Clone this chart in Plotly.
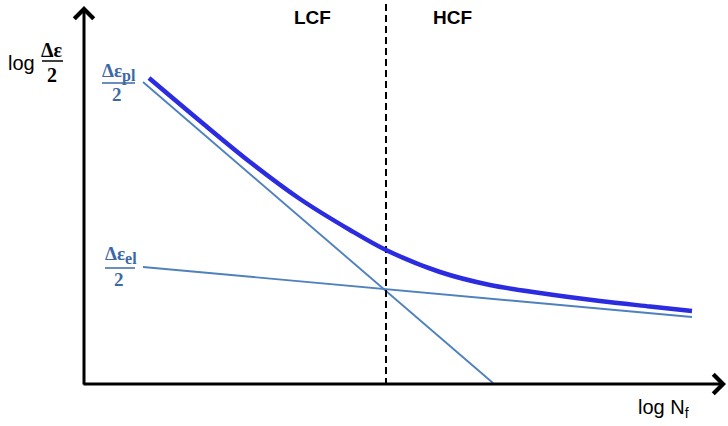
import plotly.graph_objects as go

# ---- data (chart units: origin at axis corner, x = log Nf, y = log strain amplitude) ----
log_nf_total = [65, 116, 166, 216, 266, 302, 356, 406, 456, 516, 566, 608]
log_strain_total = [306, 263, 222, 185, 154, 134, 112, 99, 91, 83, 77.5, 73]

log_nf_plastic = [59, 409]
log_strain_plastic = [302, 1]

log_nf_elastic = [59, 608]
log_strain_elastic = [117, 67]

transition_nf = 302
transition_span = [-1, 380]

x_axis_end = 642
y_axis_end = 378

region_labels = ["LCF", "HCF"]
region_label_x = [228, 368]

THICK = "#2b2be0"
THIN = "#4f81bd"
LABEL_BLUE = "#3d68a6"

fig = go.Figure()

fig.add_trace(go.Scatter(x=log_nf_plastic, y=log_strain_plastic, mode="lines",
                         line=dict(color=THIN, width=1.9), hoverinfo="skip"))
fig.add_trace(go.Scatter(x=log_nf_elastic, y=log_strain_elastic, mode="lines",
                         line=dict(color=THIN, width=1.9), hoverinfo="skip"))
fig.add_trace(go.Scatter(x=[transition_nf, transition_nf], y=transition_span, mode="lines",
                         line=dict(color="black", width=2, dash="7px,4px"), hoverinfo="skip"))
fig.add_trace(go.Scatter(x=log_nf_total, y=log_strain_total, mode="lines",
                         line=dict(color=THICK, width=4.5, shape="spline", smoothing=0.9),
                         hoverinfo="skip"))

annotations = []
# axis arrows
annotations.append(dict(x=0, y=y_axis_end, ax=0, ay=-2, xref="x", yref="y", axref="x", ayref="y",
                        text="", showarrow=True, arrowhead=4, arrowsize=1.25, arrowwidth=3,
                        arrowcolor="black", standoff=0))
annotations.append(dict(x=x_axis_end, y=0, ax=-2, ay=0, xref="x", yref="y", axref="x", ayref="y",
                        text="", showarrow=True, arrowhead=4, arrowsize=1.25, arrowwidth=3,
                        arrowcolor="black", standoff=0))

def txt(x, y, s, size, color="black", family="Liberation Sans, Arial, sans-serif"):
    annotations.append(dict(x=x, y=y, xref="x", yref="y", text=s, showarrow=False,
                            xanchor="center", yanchor="middle",
                            font=dict(size=size, color=color, family=family)))

SERIF = "Liberation Serif, DejaVu Serif, serif"
for lab, lx in zip(region_labels, region_label_x):
    txt(lx, 367, "<b>" + lab + "</b>", 19)

txt(-63, 321, "log", 20)
txt(-32, 334, "<b>Δε</b>", 20, family=SERIF)
txt(-32, 309, "<b>2</b>", 20, family=SERIF)

txt(579, -24, "log N<sub>f</sub>", 20)

txt(35, 312, "<b>Δε<sub><span style='font-size:16px'>pl</span></sub></b>", 19, LABEL_BLUE, SERIF)
txt(33, 290, "<b>2</b>", 19, LABEL_BLUE, SERIF)
txt(37, 129, "<b>Δε<sub><span style='font-size:16px'>el</span></sub></b>", 19, LABEL_BLUE, SERIF)
txt(35, 105, "<b>2</b>", 19, LABEL_BLUE, SERIF)

shapes = [
    dict(type="line", xref="x", yref="y", x0=-42, x1=-21, y0=323, y1=323,
         line=dict(color="black", width=1.5)),
    dict(type="line", xref="x", yref="y", x0=18, x1=51, y0=301, y1=301,
         line=dict(color=LABEL_BLUE, width=1.5)),
    dict(type="line", xref="x", yref="y", x0=21, x1=51, y0=116, y1=116,
         line=dict(color=LABEL_BLUE, width=1.5)),
]

fig.update_layout(
    width=728, height=426,
    margin=dict(l=0, r=0, t=0, b=0),
    paper_bgcolor="white", plot_bgcolor="white",
    showlegend=False,
    xaxis=dict(range=[-84, 644], visible=False, fixedrange=True),
    yaxis=dict(range=[-42, 384], visible=False, fixedrange=True),
    annotations=annotations, shapes=shapes,
)

fig.write_html("out.html", config={"displayModeBar": False},
               post_script="document.body.style.margin='0';document.body.style.overflow='hidden';")
